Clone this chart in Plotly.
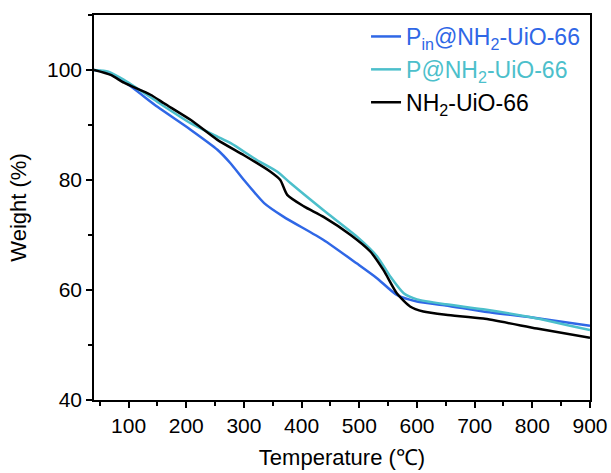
import plotly.graph_objects as go

# Temperature (°C) and weight (%)
T_pin = [40, 60, 92, 150, 208, 254, 277, 300, 335, 369, 438, 496, 530, 565, 600, 650, 715, 800, 900]
W_pin = [100, 99.6, 97.9, 93.3, 89.1, 85.5, 83.0, 80.0, 75.8, 73.3, 69.1, 64.8, 62.2, 59.1, 57.9, 57.2, 56.1, 55.0, 53.5]

T_p = [40, 65, 92, 150, 208, 254, 277, 323, 358, 381, 438, 496, 531, 554, 577, 600, 650, 715, 800, 900]
W_p = [100, 99.7, 98.2, 94.2, 90.3, 87.9, 86.7, 83.6, 81.5, 79.4, 74.5, 69.7, 66.1, 62.4, 59.4, 58.3, 57.4, 56.5, 55.0, 52.7]

T_nh2 = [40, 69, 92, 138, 162, 208, 254, 300, 346, 363, 375, 404, 438, 485, 519, 542, 565, 588, 611, 650, 715, 808, 900]
W_nh2 = [100, 99.1, 97.7, 95.5, 93.9, 90.9, 87.3, 84.5, 81.5, 80.0, 77.3, 75.2, 73.3, 70.0, 67.0, 63.6, 59.4, 57.0, 56.1, 55.5, 54.8, 53.0, 51.3]

names = ["P<sub>in</sub>@NH<sub>2</sub>-UiO-66", "P@NH<sub>2</sub>-UiO-66", "NH<sub>2</sub>-UiO-66"]
colors = ["#2F67E6", "#4CBFCB", "#000000"]
xs = [T_pin, T_p, T_nh2]
ys = [W_pin, W_p, W_nh2]

FONT = "Liberation Sans, Arial"

fig = go.Figure()
for x, y, n, c in zip(xs, ys, names, colors):
    fig.add_trace(go.Scatter(
        x=x, y=y, mode="lines", line=dict(color=c, width=2.5, shape="spline", smoothing=0.6),
        name=f"<span style='color:{c}'>{n}</span>"))

axis_common = dict(
    showline=True, linecolor="black", linewidth=1.5, mirror=True,
    ticks="outside", ticklen=6, tickwidth=1.5, tickcolor="black",
    showgrid=False, zeroline=False, automargin=False,
    tickfont=dict(family=FONT, size=21, color="black"),
)

fig.update_xaxes(range=[40, 900], tickvals=[100, 200, 300, 400, 500, 600, 700, 800, 900],
                 minor=dict(dtick=50, tick0=0, ticks="outside", ticklen=4, tickcolor="black", tickwidth=1.5),
                 title=dict(text="Temperature (℃)", font=dict(family=FONT, size=22, color="black"), standoff=14),
                 **axis_common)
fig.update_yaxes(range=[40, 110], tickvals=[40, 60, 80, 100],
                 minor=dict(dtick=10, tick0=0, ticks="outside", ticklen=4, tickcolor="black", tickwidth=1.5),
                 title=dict(text="Weight (%)", font=dict(family=FONT, size=22, color="black"), standoff=14),
                 **axis_common)

fig.update_layout(
    width=611, height=473,
    margin=dict(l=94, r=21, t=15, b=73),
    plot_bgcolor="white", paper_bgcolor="white",
    legend=dict(x=0.99, y=1.0, xanchor="right", yanchor="top",
                font=dict(family=FONT, size=23, color="black"),
                bgcolor="rgba(0,0,0,0)", tracegroupgap=0),
)

fig.write_html("out.html")
